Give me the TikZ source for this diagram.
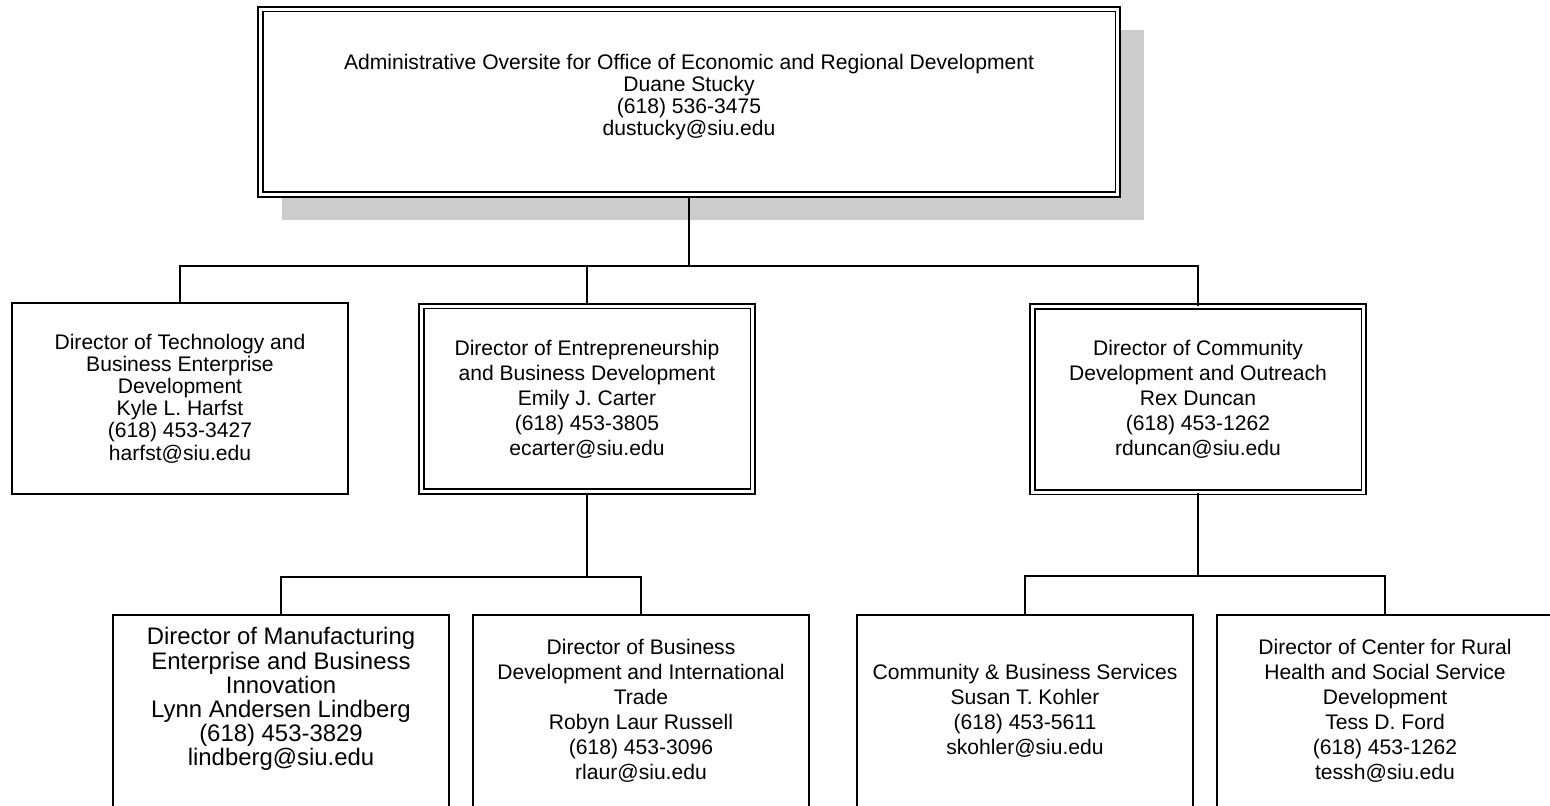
\documentclass[tikz,border=0pt]{standalone}
\usepackage{fontspec}
\setmainfont{Liberation Sans}
\usepackage{tikz}
\usetikzlibrary{backgrounds}
\definecolor{shadowgray}{HTML}{CCCCCC}

\begin{document}
\begin{tikzpicture}
    [
    box/.style={draw,line width=1.1pt,fill=white,align=center,inner sep=0pt,
      minimum width=6.72cm,minimum height=3.84cm,font=\fontsize{12}{14.2}\selectfont},
    dbox/.style={box,double,double distance=1.5pt,minimum width=6.63cm,minimum height=3.71cm},
    link/.style={draw,line width=1.1pt},
    ]
    \useasboundingbox (0,0) rectangle (31,16.12);

    \node (oversite) at (13.78,14.08) [dbox, minimum width=17.15cm,
      label={[align=center, font=\fontsize{12}{12.5}\selectfont, yshift=0.09cm]center:{Administrative Oversite for Office of Economic and Regional Development\\Duane Stucky\\(618) 536-3475\\dustucky@siu.edu}}] {};
    \begin{scope}[on background layer]
      \fill [shadowgray] ([shift={(0.46,-0.44)}]oversite.north west) rectangle ([shift={(0.5,-0.48)}]oversite.south east);
    \end{scope}

    \node (tech) at (3.60,8.15) [box, minimum height=3.82cm, font=\fontsize{12}{12.6}\selectfont]
      {Director of Technology and\\Business Enterprise\\Development\\Kyle L. Harfst\\(618) 453-3427\\harfst@siu.edu};
    \node (entre) at (11.74,8.14) [dbox]
      {Director of Entrepreneurship\\and Business Development\\Emily J. Carter\\(618) 453-3805\\ecarter@siu.edu};
    \node (comm) at (23.96,8.13) [dbox]
      {Director of Community\\Development and Outreach\\Rex Duncan\\(618) 453-1262\\rduncan@siu.edu};

    \node (manuf) at (5.62,1.90) [box,
      label={[align=center, font=\fontsize{13.6}{13.7}\selectfont, yshift=0.24cm]center:{Director of Manufacturing\\Enterprise and Business\\Innovation\\Lynn Andersen Lindberg\\(618) 453-3829\\lindberg@siu.edu}}] {};
    \node (trade) at (12.82,1.90) [box]
      {Director of Business\\Development and International\\Trade\\Robyn Laur Russell\\(618) 453-3096\\rlaur@siu.edu};
    \node (services) at (20.50,1.90) [box]
      {Community \& Business Services\\Susan T. Kohler\\(618) 453-5611\\skohler@siu.edu};
    \node (rural) at (27.70,1.90) [box]
      {Director of Center for Rural\\Health and Social Service\\Development\\Tess D. Ford\\(618) 453-1262\\tessh@siu.edu};

    \draw [link] (oversite.south) -- ++(0,-1.4) coordinate (bus1);
    \draw [link] (bus1) -| (tech.north);
    \draw [link] (bus1) -| (entre.north);
    \draw [link] (bus1) -| (comm.north);

    \draw [link] (entre.south) -- ++(0,-1.68) coordinate (bus2);
    \draw [link] (bus2) -| (manuf.north);
    \draw [link] (bus2) -| (trade.north);

    \draw [link] (comm.south) -- ++(0,-1.66) coordinate (bus3);
    \draw [link] (bus3) -| (services.north);
    \draw [link] (bus3) -| (rural.north);
  \end{tikzpicture}
\end{document}
